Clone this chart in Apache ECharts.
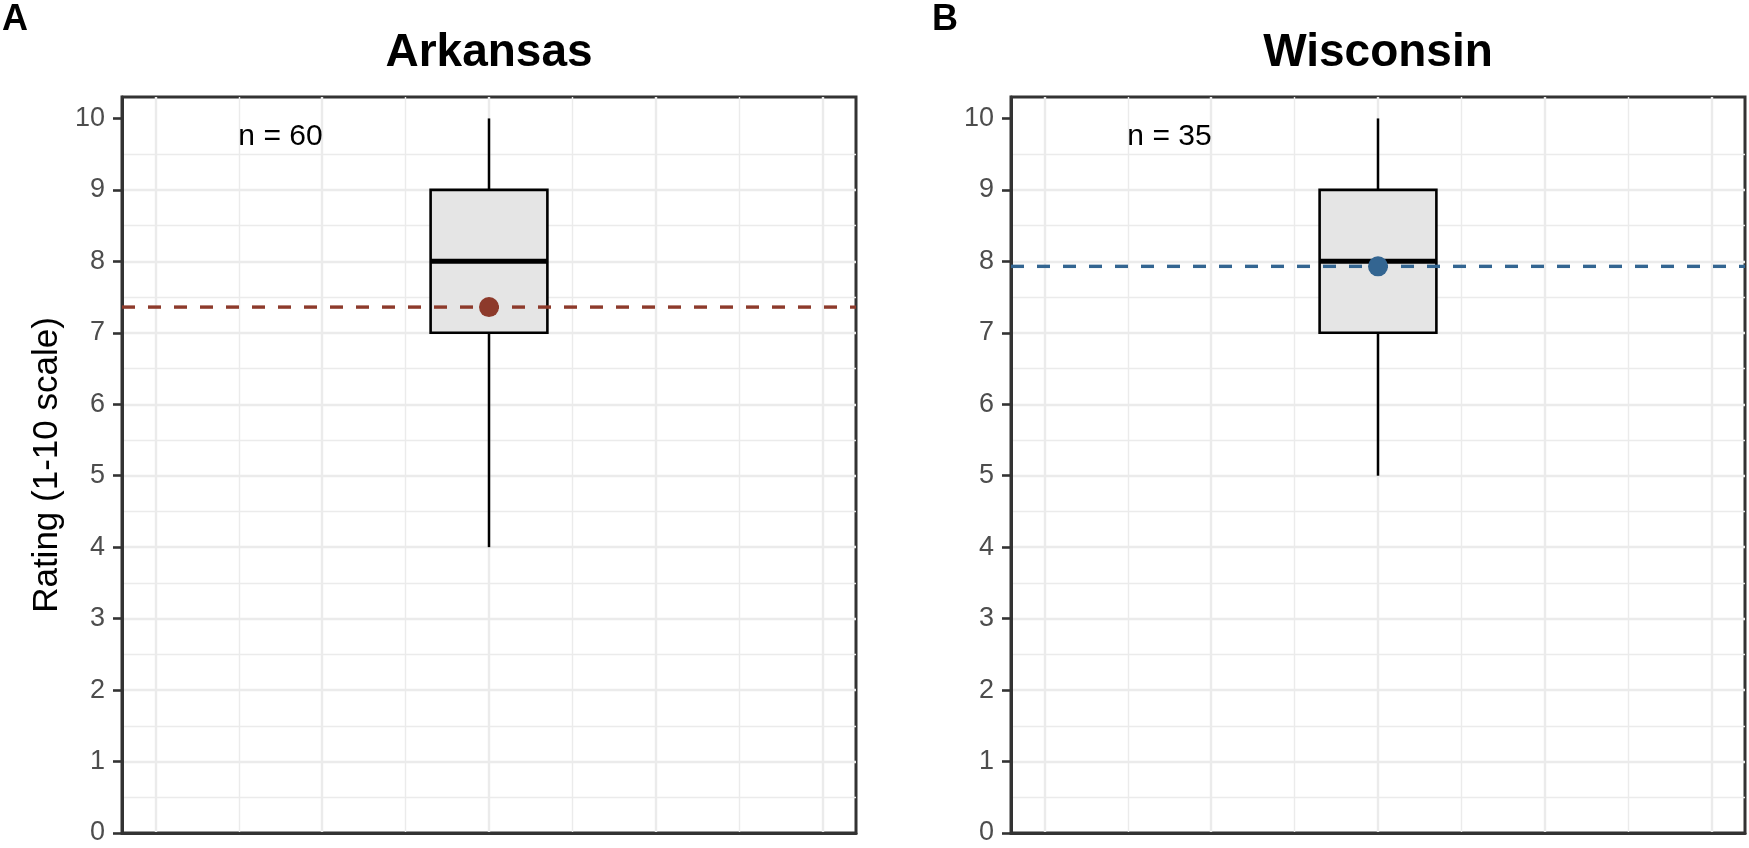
<!DOCTYPE html>
<html>
<head>
<meta charset="utf-8">
<script src="https://cdn.jsdelivr.net/npm/echarts@6/dist/echarts.min.js"></script>
<style>
html, body { margin: 0; padding: 0; background: #ffffff; }
#chart { width: 1749px; height: 848px; }
</style>
</head>
<body>
<div id="chart"></div>
<script>
// ---- data ----
const panels = ['Arkansas', 'Wisconsin'];
const panelTags = ['A', 'B'];
const sampleSizes = ['n = 60', 'n = 35'];
// [whisker low, Q1, median, Q3, whisker high]
const arkansasBox = [4, 7, 8, 9, 10];
const wisconsinBox = [5, 7, 8, 9, 10];
const boxStats = [arkansasBox, wisconsinBox];
const means = [7.36, 7.93];
const meanColors = ['#8d3a2b', '#336591'];
const boxX = 4;
const boxWidth = 1.4;
const xRange = [-0.4, 8.4];
const yRange = [0, 10.3];
const yTicks = [0, 1, 2, 3, 4, 5, 6, 7, 8, 9, 10];
const annotationPos = [1.5, 9.74];

// ---- layout / style ----
const FONT = "'Liberation Sans', Arial, Helvetica, sans-serif";
const gridLefts = [122, 1011];
const gridTop = 97;
const gridW = 734;
const gridH = 736;
const majorGrid = '#ebebeb';
const frame = '#333333';

const chart = echarts.init(document.getElementById('chart'), null, { renderer: 'canvas' });

const grids = [], xAxes = [], yAxes = [], series = [], graphics = [];

panels.forEach((name, i) => {
  grids.push({
    left: gridLefts[i], top: gridTop, width: gridW, height: gridH,
    show: true, borderColor: frame, borderWidth: 3, backgroundColor: '#fff'
  });
  xAxes.push({
    gridIndex: i, type: 'value', min: xRange[0], max: xRange[1],
    splitNumber: 5, minInterval: 2, maxInterval: 2,
    axisLine: { show: true, onZero: false, lineStyle: { color: frame, width: 3 } },
    axisTick: { show: false }, axisLabel: { show: false },
    minorTick: { show: false, splitNumber: 2 },
    splitLine: { show: true, showMinLine: false, showMaxLine: false, lineStyle: { color: majorGrid, width: 2.4 } },
    minorSplitLine: { show: true, lineStyle: { color: majorGrid, width: 1.4 } }
  });
  yAxes.push({
    gridIndex: i, type: 'value', min: yRange[0], max: yRange[1], interval: 1,
    name: i === 0 ? 'Rating (1-10 scale)' : '',
    nameLocation: 'middle', nameGap: 57,
    nameTextStyle: { fontSize: 35, color: '#000', fontFamily: FONT },
    axisLine: { show: true, onZero: false, lineStyle: { color: frame, width: 3 } },
    axisTick: { show: true, length: 9, customValues: yTicks, lineStyle: { color: frame, width: 2.6 } },
    axisLabel: { show: true, customValues: yTicks, margin: 17, fontSize: 27, color: '#4d4d4d', fontFamily: FONT },
    minorTick: { show: false, splitNumber: 2 },
    splitLine: { show: true, showMinLine: false, showMaxLine: false, lineStyle: { color: majorGrid, width: 2.4 } },
    minorSplitLine: { show: true, lineStyle: { color: majorGrid, width: 1.4 } }
  });

  // box + whiskers
  series.push({
    type: 'custom', xAxisIndex: i, yAxisIndex: i, z: 3,
    data: [[boxX].concat(boxStats[i])],
    renderItem: function (params, api) {
      const x = api.value(0);
      const lo = api.coord([x, api.value(1)]);
      const q1 = api.coord([x, api.value(2)]);
      const md = api.coord([x, api.value(3)]);
      const q3 = api.coord([x, api.value(4)]);
      const hi = api.coord([x, api.value(5)]);
      const half = api.size([boxWidth, 0])[0] / 2;
      return {
        type: 'group',
        children: [
          { type: 'line', shape: { x1: lo[0], y1: lo[1], x2: q1[0], y2: q1[1] }, style: { stroke: '#000', lineWidth: 2.5 } },
          { type: 'line', shape: { x1: q3[0], y1: q3[1], x2: hi[0], y2: hi[1] }, style: { stroke: '#000', lineWidth: 2.5 } },
          { type: 'rect', shape: { x: q3[0] - half, y: q3[1], width: 2 * half, height: q1[1] - q3[1] }, style: { fill: '#e5e5e5', stroke: '#000', lineWidth: 2.6 } },
          { type: 'line', shape: { x1: md[0] - half, y1: md[1], x2: md[0] + half, y2: md[1] }, style: { stroke: '#000', lineWidth: 5 } }
        ]
      };
    }
  });

  // dashed mean line
  series.push({
    type: 'line', xAxisIndex: i, yAxisIndex: i, z: 4,
    data: [[xRange[0], means[i]], [xRange[1], means[i]]],
    showSymbol: false, symbol: 'none', silent: true,
    lineStyle: { color: meanColors[i], width: 3.4, type: [13, 13], cap: 'butt' }
  });

  // mean point
  series.push({
    type: 'scatter', xAxisIndex: i, yAxisIndex: i, z: 5,
    data: [[boxX, means[i]]],
    symbol: 'circle', symbolSize: 20,
    itemStyle: { color: meanColors[i], opacity: 1 }
  });

  // n annotation
  series.push({
    type: 'custom', xAxisIndex: i, yAxisIndex: i, z: 6,
    data: [[annotationPos[0], annotationPos[1]]],
    renderItem: function (params, api) {
      const p = api.coord([api.value(0), api.value(1)]);
      return {
        type: 'text', x: p[0], y: p[1],
        style: { text: sampleSizes[i], fontSize: 30, fontFamily: FONT, fill: '#000', align: 'center', verticalAlign: 'middle' }
      };
    }
  });

  graphics.push({
    type: 'text', x: gridLefts[i] + gridW / 2, y: 53,
    style: { text: name, font: 'bold 46px ' + FONT, fill: '#000', align: 'center', verticalAlign: 'middle' }
  });
});

graphics.push({ type: 'text', x: 2, y: 20, style: { text: panelTags[0], font: 'bold 36px ' + FONT, fill: '#000', align: 'left', verticalAlign: 'middle' } });
graphics.push({ type: 'text', x: 932, y: 20, style: { text: panelTags[1], font: 'bold 36px ' + FONT, fill: '#000', align: 'left', verticalAlign: 'middle' } });

chart.setOption({
  animation: false,
  backgroundColor: '#ffffff',
  grid: grids,
  xAxis: xAxes,
  yAxis: yAxes,
  series: series,
  graphic: graphics
});
</script>
</body>
</html>
